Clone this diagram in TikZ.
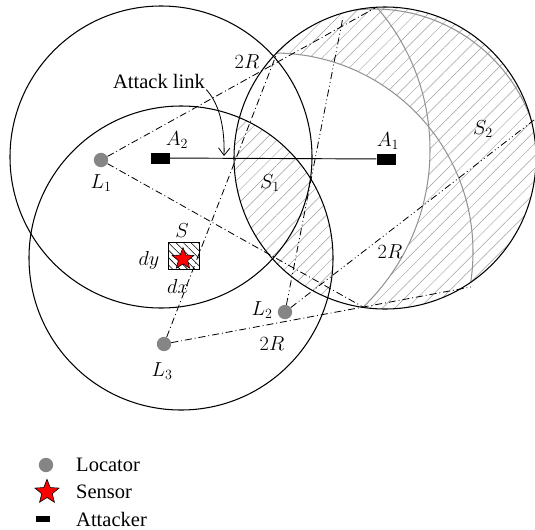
\documentclass[tikz,border=0pt]{standalone}
\usepackage{fontspec}
\setmainfont{Liberation Serif}
\usepackage{tikz}
\usetikzlibrary{arrows.meta,positioning,shapes.geometric,patterns.meta}

\begin{document}
\begin{tikzpicture}[
  x=0.03cm, y=-0.03cm,
  lbl/.style={font=\fontsize{17.5}{20}\selectfont, inner sep=1pt},
  locator/.style={circle, fill=black!48, minimum size=0.43cm, inner sep=0pt},
  attacker/.style={rectangle, fill=black, minimum width=0.57cm, minimum height=0.33cm, inner sep=0pt},
  sensor/.style={star, star points=5, star point ratio=2.3, draw=black, fill=red, line width=0.5pt, minimum size=0.68cm, inner sep=0pt},
  cellbox/.style={rectangle, draw=black, line width=0.8pt, minimum width=0.95cm, minimum height=0.8cm, inner sep=0pt,
    pattern={Lines[angle=-45,distance=4.5pt,line width=0.5pt]}, pattern color=black},
  rangecircle/.style={draw=black, line width=0.9pt},
  boundarc/.style={draw=black!42, line width=0.9pt},
  hatch/.style={pattern={Lines[angle=45,distance=7.5pt,line width=0.4pt]}, pattern color=black!38},
  dashdot/.style={line width=0.7pt, dash pattern=on 6pt off 2.5pt on 0.8pt off 2.5pt},
  dashdotdot/.style={line width=0.7pt, dash pattern=on 6pt off 2.5pt on 0.8pt off 2.5pt on 0.8pt off 2.5pt},
  arrow/.style={-{Straight Barb[length=2.2mm, width=3.4mm]}, line width=0.7pt}
]
\useasboundingbox (0,0) rectangle (535,529);

\coordinate (cA2) at (161,157);
\coordinate (cA1) at (385,158);
\coordinate (cS) at (181,258);
\coordinate (c1) at (274,252);
\coordinate (c2) at (212,150);
\coordinate (c3) at (374,176);

\fill[hatch] (cA1) circle[radius=151];
\begin{scope}
  \clip (cA1) circle[radius=151];
  \clip (c1) circle[radius=199];
  \clip (c2) circle[radius=218];
  \fill[white] (cA1) circle[radius=151];
\end{scope}
\begin{scope}
  \clip (cA1) circle[radius=151];
  \fill[hatch] (cS) circle[radius=152];
\end{scope}
\begin{scope}
  \clip (cA1) circle[radius=151];
  \draw[boundarc] (c1) circle[radius=199];
  \draw[boundarc] (c2) circle[radius=218];
  \draw[boundarc] (c3) circle[radius=167];
\end{scope}

\draw[rangecircle] (cA2) circle[radius=151];
\draw[rangecircle] (cS) circle[radius=152];
\draw[rangecircle] (cA1) circle[radius=151];

\node[attacker] (A2) at (160,158) {};
\node[attacker] (A1) at (386,159) {};
\node[locator] (L1) at (101,160) {};
\node[locator] (L2) at (285,312) {};
\node[locator] (L3) at (164,344) {};
\node[cellbox] (cell) at (184,256) {};
\node[sensor] (S) at (183,259) {};

\coordinate (t1) at (375,8);
\coordinate (b1) at (363,307);
\coordinate (t2) at (343,17);
\coordinate (r2) at (534,120);
\coordinate (t3) at (277,53);
\coordinate (r3) at (471,287);

\draw[line width=0.8pt] (A2) -- (A1);
\draw[dashdot] (L1) -- (t1);
\draw[dashdot] (L1) -- (b1);
\draw[dashdotdot] (L2) -- (t2);
\draw[dashdotdot] (L2) -- (r2);
\draw[dashdot] (L3) -- (t3);
\draw[dashdot] (L3) -- (r3);

\node[lbl] (attack) at (159,81) {Attack link};
\coordinate (hit) at (224,156);
\draw[arrow] (attack.south east) .. controls (216,100) and (225,120) .. (hit);

\node[lbl] (lA2) at (177,140) {$A_2$};
\node[lbl] (lA1) at (388,141) {$A_1$};
\node[lbl] (lL1) at (101,183) {$L_1$};
\node[lbl] (lL2) at (262,310) {$L_2$};
\node[lbl] (lL3) at (162,371) {$L_3$};
\node[lbl] (lS) at (182,231) {$S$};
\node[lbl] (ldy) at (149,260) {$dy$};
\node[lbl] (ldx) at (178,286) {$dx$};
\node[lbl] (lS1) at (270,183) {$S_1$};
\node[lbl] (lS2) at (483,129) {$S_2$};
\node[lbl] (r2a) at (247,62) {$2R$};
\node[lbl] (r2b) at (390,252) {$2R$};
\node[lbl] (r2c) at (272,344) {$2R$};

\node[locator] (legloc) at (46,465) {};
\node[lbl, right=0.865cm of legloc.center] (legloctext) {Locator};
\node[sensor, minimum size=0.76cm] (legsen) at (47,492) {};
\node[lbl, right=0.835cm of legsen.center] (legsentext) {Sensor};
\node[attacker, minimum width=0.4cm, minimum height=0.2cm] (legatt) at (43,519) {};
\node[lbl, right=0.955cm of legatt.center] (legatttext) {Attacker};
\end{tikzpicture}
\end{document}
